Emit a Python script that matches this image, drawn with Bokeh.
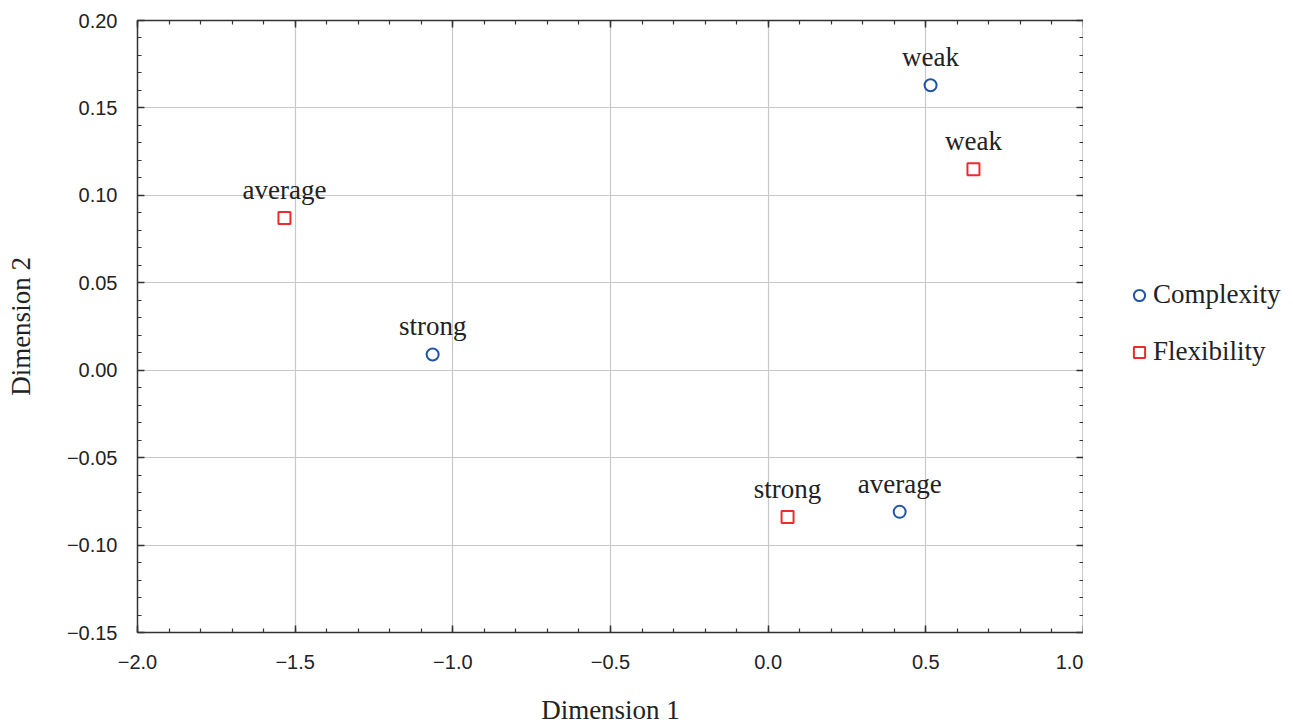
from bokeh.plotting import figure
from bokeh.layouts import row, column
from bokeh.models import (Range1d, LinearAxis, FixedTicker, CustomJSTickFormatter, Legend, LegendItem,
                          ColumnDataSource, Label)
from bokeh.core.properties import value
from bokeh.embed import file_html
from bokeh.resources import INLINE

# ---- data ----
complexity_labels = ["weak", "strong", "average"]
complexity_x = [0.515, -1.064, 0.417]
complexity_y = [0.163, 0.009, -0.081]

flexibility_labels = ["weak", "average", "strong"]
flexibility_x = [0.651, -1.534, 0.0615]
flexibility_y = [0.115, 0.087, -0.084]

series_names = ["Complexity", "Flexibility"]
x_title = "Dimension 1"
y_title = "Dimension 2"

x_ticks = [-2.0, -1.5, -1.0, -0.5, 0.0, 0.5, 1.0]
y_ticks = [-0.15, -0.10, -0.05, 0.0, 0.05, 0.10, 0.15, 0.20]
x_minor = [round(-2.0 + 0.1 * i, 2) for i in range(31)]
y_minor = [round(-0.15 + 0.01 * i, 3) for i in range(36)]

BLUE = "#1f55a8"
RED = "#ee2a2e"
AX = "#333333"
TXT = "#222222"
SERIF = "Liberation Serif"
SANS = "Liberation Sans"

p = figure(width=1083, height=690, output_backend="svg", toolbar_location=None,
           x_range=Range1d(-2.0, 1.0), y_range=Range1d(-0.15, 0.20),
           min_border_left=137, min_border_top=20, min_border_right=0, min_border_bottom=58,
           y_axis_label=y_title)
p.outline_line_color = None
p.background_fill_color = "white"
p.border_fill_color = "white"

xfmt = CustomJSTickFormatter(code="return (tick < -1e-9 ? '\\u2212' : '') + Math.abs(tick).toFixed(1);")
yfmt = CustomJSTickFormatter(code="return (tick < -1e-9 ? '\\u2212' : '') + Math.abs(tick).toFixed(2);")
nofmt = CustomJSTickFormatter(code="return '';")

def style_axis(ax, ticks, minor, fmt):
    ax.ticker = FixedTicker(ticks=ticks, minor_ticks=minor)
    ax.formatter = fmt
    ax.axis_line_color = AX
    ax.axis_line_width = 1.5
    ax.major_tick_line_color = AX
    ax.major_tick_line_width = 1.5
    ax.minor_tick_line_color = AX
    ax.minor_tick_line_width = 1.2
    ax.major_tick_in = 7
    ax.major_tick_out = 0
    ax.minor_tick_in = 4
    ax.minor_tick_out = 0
    ax.major_label_text_font = SANS
    ax.major_label_text_font_size = "20px"
    ax.major_label_text_color = TXT
    ax.axis_label_text_font = SERIF
    ax.axis_label_text_font_size = "27px"
    ax.axis_label_text_font_style = "normal"
    ax.axis_label_text_color = TXT

style_axis(p.xaxis[0], x_ticks, x_minor, xfmt)
style_axis(p.yaxis[0], y_ticks, y_minor, yfmt)
p.xaxis[0].major_label_standoff = 22
p.yaxis[0].major_label_standoff = 20
p.yaxis[0].axis_label_standoff = 28

top = LinearAxis()
style_axis(top, x_ticks, x_minor, nofmt)
top.major_label_standoff = 0
p.add_layout(top, "above")
right = LinearAxis()
style_axis(right, y_ticks, y_minor, nofmt)
right.major_label_standoff = 0
p.add_layout(right, "right")

p.xgrid.ticker = FixedTicker(ticks=x_ticks)
p.ygrid.ticker = FixedTicker(ticks=y_ticks)
for g in (p.xgrid[0], p.ygrid[0]):
    g.grid_line_color = "#c8c8c8"
    g.grid_line_width = 1.2

src_c = ColumnDataSource(dict(x=complexity_x, y=complexity_y, t=complexity_labels))
src_f = ColumnDataSource(dict(x=flexibility_x, y=flexibility_y, t=flexibility_labels))

p.scatter("x", "y", source=src_c, marker="circle", size=12, fill_color=None,
          line_color=BLUE, line_width=2)
p.scatter("x", "y", source=src_f, marker="square", size=12, fill_color=None,
          line_color=RED, line_width=2)

for src in (src_c, src_f):
    p.text("x", "y", text="t", source=src, text_font=value(SERIF), text_font_size="27px",
           text_color=TXT, text_align="center", text_baseline="alphabetic", y_offset=-28)

# ---- x-axis title strip under the plot ----
lab = figure(width=1083, height=36, output_backend="svg", toolbar_location=None,
             x_range=Range1d(0, 1), y_range=Range1d(0, 1),
             min_border_left=137, min_border_right=0, min_border_top=0, min_border_bottom=0,
             x_axis_location=None, y_axis_location=None)
lab.outline_line_color = None
lab.grid.visible = False
lab.border_fill_color = "white"
lab.add_layout(Label(x=0.5, y=0.45, text=x_title, text_align="center", text_baseline="middle",
                     text_font=SERIF, text_font_size="27px", text_color=TXT))

# ---- legend panel (same series, drawn out of view; only the legend shows) ----
q = figure(width=210, height=726, output_backend="svg", toolbar_location=None,
           x_range=Range1d(10, 11), y_range=Range1d(10, 11),
           min_border=0, x_axis_location=None, y_axis_location=None)
q.outline_line_color = None
q.grid.visible = False
q.border_fill_color = "white"
lc = q.scatter("x", "y", source=src_c, marker="circle", size=12, fill_color=None,
               line_color=BLUE, line_width=2)
lf = q.scatter("x", "y", source=src_f, marker="square", size=12, fill_color=None,
               line_color=RED, line_width=2)

legend = Legend(items=[LegendItem(label=series_names[0], renderers=[lc]),
                       LegendItem(label=series_names[1], renderers=[lf])],
                location=(42, 359), orientation="vertical")
legend.label_text_font = SERIF
legend.label_text_font_size = "27px"
legend.label_text_color = TXT
legend.border_line_color = None
legend.background_fill_alpha = 0
legend.spacing = 26
legend.glyph_width = 28
legend.glyph_height = 28
legend.label_standoff = 0
legend.margin = 0
legend.padding = 5
q.add_layout(legend, "center")

layout = row(column(p, lab, spacing=0), q, spacing=0)
open("out.html", "w").write(file_html(layout, INLINE))
